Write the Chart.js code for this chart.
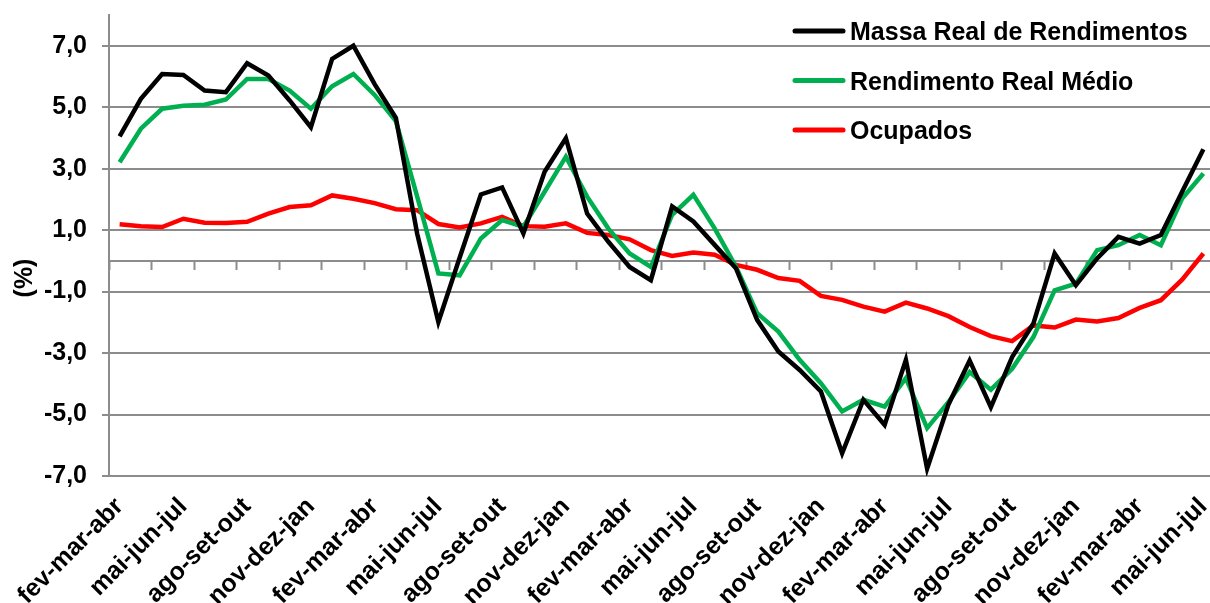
<!DOCTYPE html>
<html>
<head>
<meta charset="utf-8">
<script src="https://cdn.jsdelivr.net/npm/chart.js@4/dist/chart.umd.min.js"></script>
<style>
    html, body { margin: 0; padding: 0; background: #fff; overflow: hidden; }
    #wrap { width: 1210px; height: 603px; overflow: hidden; }
</style>
</head>
<body>
<div id="wrap"><canvas id="chart" width="1216" height="603"></canvas></div>
<script>
// Trimestres móveis
const labels = [
    'fev-mar-abr', 'mar-abr-mai', 'abr-mai-jun', 'mai-jun-jul', 'jun-jul-ago', 'jul-ago-set',
    'ago-set-out', 'set-out-nov', 'out-nov-dez', 'nov-dez-jan', 'dez-jan-fev', 'jan-fev-mar',
    'fev-mar-abr', 'mar-abr-mai', 'abr-mai-jun', 'mai-jun-jul', 'jun-jul-ago', 'jul-ago-set',
    'ago-set-out', 'set-out-nov', 'out-nov-dez', 'nov-dez-jan', 'dez-jan-fev', 'jan-fev-mar',
    'fev-mar-abr', 'mar-abr-mai', 'abr-mai-jun', 'mai-jun-jul', 'jun-jul-ago', 'jul-ago-set',
    'ago-set-out', 'set-out-nov', 'out-nov-dez', 'nov-dez-jan', 'dez-jan-fev', 'jan-fev-mar',
    'fev-mar-abr', 'mar-abr-mai', 'abr-mai-jun', 'mai-jun-jul', 'jun-jul-ago', 'jul-ago-set',
    'ago-set-out', 'set-out-nov', 'out-nov-dez', 'nov-dez-jan', 'dez-jan-fev', 'jan-fev-mar',
    'fev-mar-abr', 'mar-abr-mai', 'abr-mai-jun', 'mai-jun-jul'
];

const massa = [
    4.05, 5.27, 6.08, 6.05, 5.54, 5.49, 6.43, 6.03, 5.22, 4.35, 6.57, 7.00,
    5.75, 4.65, 0.89, -1.99, 0.10, 2.16, 2.39, 0.89, 2.90, 3.99, 1.54, 0.62,
    -0.20, -0.63, 1.77, 1.28, 0.52, -0.24, -1.92, -2.95, -3.55, -4.25, -6.26, -4.52,
    -5.34, -3.22, -6.76, -4.68, -3.24, -4.76, -3.13, -2.04, 0.24, -0.79, 0.08, 0.78,
    0.56, 0.84, 2.25, 3.63
];

const rendimento = [
    3.21, 4.30, 4.95, 5.05, 5.08, 5.25, 5.92, 5.92, 5.54, 4.95, 5.68, 6.08,
    5.40, 4.55, 2.10, -0.41, -0.47, 0.73, 1.33, 1.11, 2.25, 3.39, 2.09, 1.05,
    0.24, -0.20, 1.50, 2.15, 1.06, -0.18, -1.70, -2.30, -3.22, -3.98, -4.90, -4.52,
    -4.74, -3.82, -5.44, -4.60, -3.62, -4.19, -3.51, -2.48, -0.96, -0.74, 0.35, 0.51,
    0.84, 0.51, 2.03, 2.84
];

const ocupados = [
    1.19, 1.13, 1.10, 1.37, 1.24, 1.23, 1.27, 1.54, 1.75, 1.81, 2.13, 2.02,
    1.88, 1.68, 1.65, 1.20, 1.09, 1.22, 1.43, 1.13, 1.11, 1.22, 0.91, 0.84,
    0.70, 0.35, 0.16, 0.27, 0.20, -0.13, -0.29, -0.56, -0.65, -1.14, -1.27, -1.49,
    -1.65, -1.36, -1.55, -1.80, -2.15, -2.45, -2.61, -2.10, -2.17, -1.91, -1.97, -1.86,
    -1.53, -1.28, -0.61, 0.24
];

const yTicks = [-7, -5, -3, -1, 1, 3, 5, 7];

const FONT = "'Liberation Sans', Arial, sans-serif";
const GRID = '#8c8c8c';

// sem folgas automáticas: a área do gráfico fica onde a queremos
const noPad = (s) => { s.paddingTop = 0; s.paddingBottom = 0; s.paddingLeft = 0; s.paddingRight = 0; };

// legenda desenhada dentro da área do gráfico + título do eixo (%)
const overlay = {
    id: 'overlay',
    afterDraw(chart) {
        const c = chart.ctx;
        c.save();
        c.font = 'bold 25px ' + FONT;
        c.fillStyle = '#000';
        c.textBaseline = 'alphabetic';
        chart.data.datasets.forEach((ds, i) => {
            const y = 31 + i * 49.5;
            c.strokeStyle = ds.borderColor;
            c.lineWidth = 5;
            c.lineCap = 'round';
            c.beginPath();
            c.moveTo(795, y);
            c.lineTo(843, y);
            c.stroke();
            c.fillText(ds.label, 850, y + 9);
        });
        // (%)
        c.translate(25, 278);
        c.rotate(-Math.PI / 2);
        c.textAlign = 'center';
        c.textBaseline = 'middle';
        c.fillText('(%)', 0, 0);
        c.restore();
    }
};

const ctx = document.getElementById('chart').getContext('2d');
const chart = new Chart(ctx, {
    type: 'line',
    data: {
        labels: labels,
        datasets: [
            { label: 'Massa Real de Rendimentos', data: massa, borderColor: '#000000' },
            { label: 'Rendimento Real Médio', data: rendimento, borderColor: '#00b050' },
            { label: 'Ocupados', data: ocupados, borderColor: '#ff0000' }
        ]
    },
    options: {
        responsive: false,
        animation: false,
        layout: { padding: { top: 15, right: 2, left: 0, bottom: 0 } },
        elements: {
            line: { borderWidth: 4.5, tension: 0, borderCapStyle: 'butt', borderJoinStyle: 'miter' },
            point: { radius: 0 }
        },
        plugins: {
            legend: { display: false },
            tooltip: { enabled: false }
        },
        scales: {
            // eixo das categorias cruzando em zero, só com marcas
            x: {
                type: 'category',
                position: { y: 0 },
                offset: true,
                ticks: { display: false, autoSkip: false },
                grid: {
                    offset: true,
                    drawOnChartArea: false,
                    drawTicks: true,
                    tickLength: 8,
                    tickWidth: 2,
                    tickColor: (c) => (c.index % 2 === 0 ? GRID : 'rgba(0,0,0,0)')
                },
                border: { display: true, color: GRID, width: 2 },
                afterFit: (s) => { noPad(s); s.height = 0; }
            },
            // rótulos na base
            x2: {
                type: 'category',
                position: 'bottom',
                offset: true,
                grid: { display: false },
                border: { display: false },
                ticks: {
                    autoSkip: false,
                    minRotation: 45,
                    maxRotation: 45,
                    padding: 8,
                    color: '#000',
                    font: { family: FONT, size: 25, weight: 'bold' },
                    callback: (v, i) => (i % 3 === 0 ? labels[i] : '')
                },
                afterFit: (s) => { noPad(s); s.height = 127; }
            },
            y: {
                min: -7,
                max: 8,
                afterBuildTicks: (s) => { s.ticks = yTicks.map(v => ({ value: v })); },
                afterFit: (s) => { noPad(s); s.width = 109; },
                ticks: {
                    padding: 15,
                    color: '#000',
                    font: { family: FONT, size: 25, weight: 'bold' },
                    callback: (v) => v.toFixed(1).replace('.', ',')
                },
                grid: { color: GRID, lineWidth: 2, tickLength: 7, tickColor: GRID },
                border: { display: true, color: GRID, width: 2 }
            }
        }
    },
    plugins: [overlay]
});
</script>
</body>
</html>
